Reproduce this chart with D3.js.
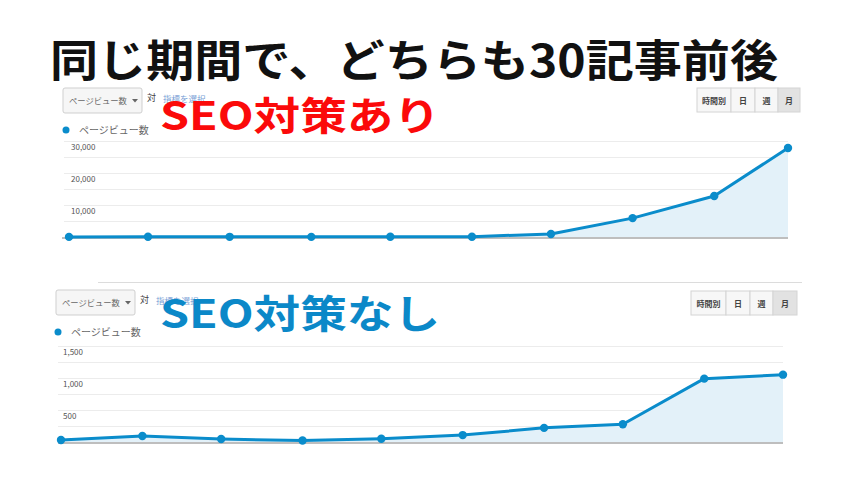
<!DOCTYPE html>
<html><head><meta charset="utf-8">
<script src="https://cdn.jsdelivr.net/npm/d3@7"></script>
<style>
html,body{margin:0;padding:0;background:#fff;}
text{font-family:"Noto Sans CJK JP","Noto Sans",sans-serif;}
</style></head>
<body><svg id="c" width="850" height="480"></svg>
<script>
// ---- data ----
const titleText = "同じ期間で、どちらも30記事前後";
const panelLabels = ["SEO対策あり", "SEO対策なし"];
const metricName = "ページビュー数";
const versusText = "対";
const linkText = "指標を選択";
const periodButtons = ["時間別", "日", "週", "月"];

const topDates = ["2017-06-01","2017-07-01","2017-08-01","2017-09-01","2017-10-01","2017-11-01","2017-12-01","2018-01-01","2018-02-01","2018-03-01"];
const topViews = [30, 60, 50, 40, 80, 100, 950, 5900, 12800, 27800];
const topTicks = [10000, 20000, 30000];
const topGrid = [5000, 10000, 15000, 20000, 25000, 30000];

const bottomDates = ["2016-03-01","2016-04-01","2016-05-01","2016-06-01","2016-07-01","2016-08-01","2016-09-01","2016-10-01","2016-11-01","2016-12-01"];
const bottomViews = [31, 93, 46, 23, 51, 108, 221, 278, 990, 1052];
const bottomTicks = [500, 1000, 1500];
const bottomGrid = [250, 500, 750, 1000, 1250, 1500];

// ---- drawing ----
const svg = d3.select("#c");
svg.append("rect").attr("width",850).attr("height",480).attr("fill","#fff");
const parse = d3.timeParse("%Y-%m-%d");
const fmt = d3.format(",");
const lineColor = "#0a8ccb";

function panel(cfg){
  const g = svg.append("g");
  const dates = cfg.dates.map(parse);
  const x = d3.scaleTime().domain(d3.extent(dates)).range([cfg.x0, cfg.x1]);
  const y = d3.scaleLinear().domain([0, cfg.max]).range([cfg.base, cfg.top]);

  // gridlines
  g.append("g").attr("transform",`translate(${cfg.x1},0)`)
    .call(d3.axisLeft(y).tickValues(cfg.grid).tickSize(cfg.x1-cfg.gx0).tickFormat(""))
    .call(s=>{s.select(".domain").remove(); s.selectAll("line").attr("stroke","#ececec");});

  // tick labels (below gridline, left aligned)
  g.append("g").attr("transform",`translate(${cfg.labelX},0)`)
    .call(d3.axisRight(y).tickValues(cfg.ticks).tickSize(0).tickPadding(0).tickFormat(fmt))
    .call(s=>{s.select(".domain").remove();
      s.selectAll("text").attr("fill","#555").attr("font-size",8).attr("dy","1.05em")
        .attr("font-family","Arial, 'Liberation Sans', sans-serif");});

  const data = dates.map((d,i)=>({d, v: cfg.values[i]}));
  // area
  g.append("path").datum(data)
    .attr("d", d3.area().x(p=>x(p.d)).y0(cfg.base).y1(p=>y(p.v)))
    .attr("fill","#e3f1f9");
  // baseline
  g.append("line").attr("x1",cfg.bx0).attr("x2",cfg.x1).attr("y1",cfg.base+1).attr("y2",cfg.base+1)
    .attr("stroke","#a8a8a8").attr("stroke-width",1.5);
  // line
  g.append("path").datum(data)
    .attr("d", d3.line().x(p=>x(p.d)).y(p=>y(p.v)))
    .attr("fill","none").attr("stroke",lineColor).attr("stroke-width",3).attr("stroke-linejoin","round");
  g.selectAll("circle.pt").data(data).join("circle").attr("class","pt")
    .attr("cx",p=>x(p.d)).attr("cy",p=>y(p.v)).attr("r",4.2).attr("fill",lineColor);

  // dropdown
  const dd = g.append("g").attr("transform",`translate(${cfg.ddX},${cfg.ddY})`);
  dd.append("rect").attr("width",79).attr("height",25).attr("rx",2)
    .attr("fill","#f6f6f6").attr("stroke","#cfcfcf");
  dd.append("text").attr("x",6).attr("y",16).attr("font-size",8.3).attr("fill","#666").text(metricName);
  dd.append("path").attr("d","M69,11 L75,11 L72,14.5 Z").attr("fill","#666");
  g.append("text").attr("x",cfg.ddX+84).attr("y",cfg.ddY+13).attr("font-size",9).attr("fill","#444").text(versusText);
  g.append("text").attr("x",cfg.ddX+100).attr("y",cfg.ddY+14).attr("font-size",8.5).attr("fill","#7a9fd6").text(linkText);

  // legend
  g.append("circle").attr("cx",cfg.legX).attr("cy",cfg.legY).attr("r",3.5).attr("fill",lineColor);
  g.append("text").attr("x",cfg.legX+13).attr("y",cfg.legY+4).attr("font-size",10).attr("fill","#666").text(metricName);

  // period buttons
  const bw = cfg.btnW;
  let bx = cfg.btnX;
  const bg = g.append("g");
  periodButtons.forEach((b,i)=>{
    bg.append("rect").attr("x",bx).attr("y",cfg.btnY).attr("width",bw[i]).attr("height",24)
      .attr("fill", i===3 ? "#e2e2e2" : "#f7f7f7").attr("stroke","#d4d4d4");
    bg.append("text").attr("x",bx+bw[i]/2).attr("y",cfg.btnY+15.5).attr("text-anchor","middle")
      .attr("font-size",8).attr("font-weight",700).attr("fill","#444").text(b);
    bx += bw[i];
  });

  // big overlay label
  g.append("text").attr("x",160).attr("y",cfg.bigY).attr("font-size",39).attr("font-weight",700)
    .attr("fill",cfg.bigColor).attr("textLength",280).attr("lengthAdjust","spacingAndGlyphs")
    .attr("dominant-baseline","central").text(cfg.label);
}

panel({dates: topDates, values: topViews, max: 30000, ticks: topTicks, grid: topGrid,
  x0: 69, x1: 788, gx0: 64, bx0: 62, base: 237, top: 141, labelX: 71,
  ddX: 63, ddY: 88, legX: 66, legY: 130, btnX: 697, btnY: 88, btnW: [34,24,23,22],
  label: panelLabels[0], bigColor: "#fb0a0a", bigY: 113});

// separator
svg.append("line").attr("x1",98).attr("x2",802).attr("y1",282.5).attr("y2",282.5).attr("stroke","#dcdcdc");

panel({dates: bottomDates, values: bottomViews, max: 1500, ticks: bottomTicks, grid: bottomGrid,
  x0: 61, x1: 783, gx0: 58, bx0: 58, base: 442, top: 346, labelX: 63,
  ddX: 56, ddY: 290, legX: 58, legY: 332, btnX: 691, btnY: 291, btnW: [35,24,23,24],
  label: panelLabels[1], bigColor: "#0b88c8", bigY: 311});

// title
svg.append("text").attr("x",50).attr("y",58).attr("font-size",44).attr("font-weight",700)
  .attr("fill","#111").attr("textLength",728).attr("lengthAdjust","spacingAndGlyphs")
  .attr("dominant-baseline","central").text(titleText);
</script></body></html>
